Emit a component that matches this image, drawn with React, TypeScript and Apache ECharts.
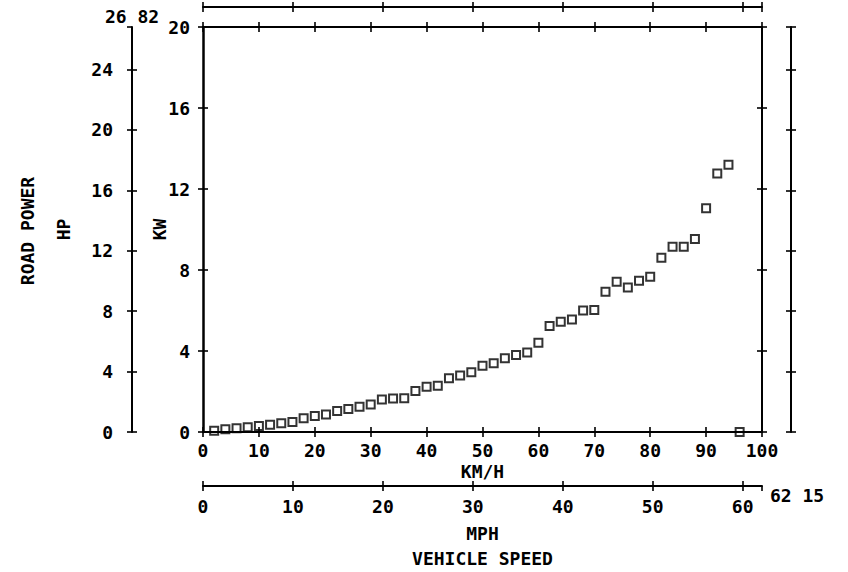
import React, { useEffect, useRef } from "react";
import * as echarts from "echarts";

// Vehicle speed (km/h) of each measured point
const speedKmh = [
  2, 4, 6, 8, 10, 12, 14, 16, 18, 20, 22, 24, 26, 28, 30, 32,
  34, 36, 38, 40, 42, 44, 46, 48, 50, 52, 54, 56, 58, 60, 62, 64,
  66, 68, 70, 72, 74, 76, 78, 80, 82, 84, 86, 88, 90, 92, 94, 96,
];

// Road power (kW) at each speed
const powerKw = [
  0.06, 0.13, 0.18, 0.23, 0.3, 0.36, 0.43, 0.49, 0.68, 0.79, 0.87, 1.04, 1.14, 1.25, 1.36, 1.6,
  1.66, 1.67, 2.02, 2.24, 2.29, 2.65, 2.79, 2.95, 3.27, 3.39, 3.64, 3.8, 3.93, 4.41, 5.23, 5.45,
  5.56, 6.0, 6.02, 6.93, 7.42, 7.13, 7.47, 7.67, 8.61, 9.15, 9.15, 9.53, 11.05, 12.76, 13.2, 0,
];

// Axis ranges: 100 km/h = 62.15 mph, 20 kW = 26.82 hp
const KMH_MAX = 100;
const MPH_MAX = 62.15;
const KW_MAX = 20;
const HP_MAX = 26.82;
const KMH_STEP = 10;
const MPH_STEP = 10;
const KW_STEP = 4;
const HP_STEP = 4;

// End-of-scale captions
const hpEndLabel = "26 82";
const mphEndLabel = "62 15";

const ink = "#000";
const font = "'DejaVu Sans Mono', 'Liberation Mono', monospace";
const textStyle = { color: ink, fontFamily: font, fontSize: 18, fontWeight: "bold" as const };

// Each scale is drawn twice: once with its line, labels and inward ticks,
// once more with outward ticks only, so the ticks cross the axis line.
function crossed(axis: any, outerName = "", outerNameOpts: any = {}): any[] {
  const tickStyle = { color: ink, width: 1.6 };
  const main = {
    splitLine: { show: false },
    nameMoveOverlap: false,
    ...axis,
    axisLine: { show: true, onZero: false, lineStyle: { color: ink, width: axis.lineWidth ?? 2 } },
    axisTick: { show: true, inside: true, length: 5, lineStyle: tickStyle },
  };
  const outer = {
    ...axis,
    name: outerName,
    nameRotate: 0,
    nameMoveOverlap: false,
    ...outerNameOpts,
    splitLine: { show: false },
    axisLine: { show: false, onZero: false },
    axisLabel: { show: false },
    axisTick: { show: true, inside: false, length: 5, lineStyle: tickStyle },
  };
  return [main, outer];
}

export default function App() {
  const ref = useRef<HTMLDivElement>(null);

  useEffect(() => {
    if (!ref.current) return;
    const chart = echarts.init(ref.current, undefined, { renderer: "svg" });

    const kmhBase = { type: "value", min: 0, max: KMH_MAX, interval: KMH_STEP };
    const mphBase = { type: "value", min: 0, max: MPH_MAX, interval: MPH_STEP };
    const kwBase = { type: "value", min: 0, max: KW_MAX, interval: KW_STEP };
    const hpBase = { type: "value", min: 0, max: HP_MAX, interval: HP_STEP };

    const xAxis = [
      ...crossed({
        ...kmhBase,
        position: "bottom",
        offset: 0,
        name: "KM/H",
        nameLocation: "middle",
        nameGap: 30,
        nameTextStyle: textStyle,
        axisLabel: { ...textStyle, margin: 9 },
      }),
      ...crossed(
        {
          ...mphBase,
          position: "bottom",
          offset: 54,
          name: "MPH\nVEHICLE SPEED",
          nameLocation: "middle",
          nameGap: 35,
          nameTextStyle: { ...textStyle, lineHeight: 25 },
          axisLabel: { ...textStyle, margin: 11, showMaxLabel: false },
        },
        mphEndLabel,
        { nameLocation: "end", nameGap: 8, nameTextStyle: { ...textStyle, verticalAlign: "top" } }
      ),
      ...crossed({ ...kmhBase, position: "top", offset: 0, axisLabel: { show: false } }),
      ...crossed({ ...mphBase, position: "top", offset: 20, axisLabel: { show: false } }),
    ];

    const yAxis = [
      ...crossed({
        ...kwBase,
        position: "left",
        offset: 0,
        lineWidth: 2.5,
        name: "KW",
        nameLocation: "middle",
        nameRotate: 90,
        nameGap: 35,
        nameTextStyle: textStyle,
        axisLabel: { ...textStyle, margin: 13 },
      }),
      ...crossed(
        {
          ...hpBase,
          position: "left",
          offset: 71,
          name: "HP",
          nameLocation: "middle",
          nameRotate: 90,
          nameGap: 60,
          nameTextStyle: textStyle,
          axisLabel: { ...textStyle, margin: 19, showMaxLabel: false },
        },
        hpEndLabel,
        { nameLocation: "end", nameGap: 2, nameTextStyle: textStyle }
      ),
      ...crossed({ ...kwBase, position: "right", offset: 0, axisLabel: { show: false } }),
      ...crossed({ ...hpBase, position: "right", offset: 29, axisLabel: { show: false } }),
    ];

    chart.setOption({
      animation: false,
      backgroundColor: "#fff",
      grid: {
        left: 203,
        top: 27,
        width: 559,
        height: 405,
        containLabel: false,
        outerBoundsMode: "none",
      },
      xAxis,
      yAxis,
      graphic: [
        {
          type: "text",
          x: 27,
          y: 231,
          rotation: Math.PI / 2,
          style: {
            text: "ROAD POWER",
            fill: ink,
            font: `bold 18px ${font}`,
            align: "center",
            verticalAlign: "middle",
          },
        },
      ],
      series: [
        {
          type: "scatter",
          xAxisIndex: 0,
          yAxisIndex: 0,
          symbol: "rect",
          symbolSize: 8,
          itemStyle: { color: "transparent", borderColor: ink, borderWidth: 2 },
          data: speedKmh.map((s, i) => [s, powerKw[i]]),
        },
      ],
    });

    return () => chart.dispose();
  }, []);

  return (
    <div
      ref={ref}
      style={{ position: "fixed", left: 0, top: 0, width: 848, height: 572, background: "#fff" }}
    />
  );
}
